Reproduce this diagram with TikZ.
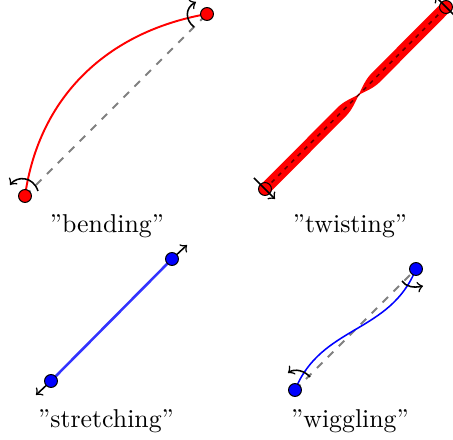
\documentclass[tikz,border=0pt]{standalone}
\usetikzlibrary{calc}
\begin{document}
\begin{tikzpicture}[x=0.3875pt,y=0.3875pt,
  joint/.style={circle,draw=black,line width=0.4pt,inner sep=0pt,minimum size=5pt},
  redjoint/.style={joint,fill=red},
  bluejoint/.style={joint,fill=blue},
  axisline/.style={gray,dashed,line width=0.7pt},
  motion/.style={->,black,line width=0.6pt},
  lbl/.style={inner sep=0pt}]
\useasboundingbox (0,0) rectangle (453,440);
\clip (0,0) rectangle (453,440);
% coordinates
\coordinate (A1) at (25,244);  \coordinate (B1) at (207,426);
\coordinate (A2) at (265,251); \coordinate (B2) at (446,433);
\coordinate (A3) at (51,59);   \coordinate (B3) at (172,181);
\coordinate (A4) at (295,50);  \coordinate (B4) at (416,171);
% ---------- bending
\draw[axisline] (A1) -- (B1);
\draw[red,line width=0.75pt] (A1) to[out=82,in=190] (B1);
\draw[motion] (38,249) .. controls (33,264) and (17,264) .. (10,255);
\draw[motion] (194,413) .. controls (185,420) and (185,432) .. (196,438);
\node[redjoint] (a1) at (A1) {};
\node[redjoint] (b1) at (B1) {};
\node[lbl] (L1) at (107,214) {''bending''};
% ---------- twisting
\begin{scope}[shift={(A2)},rotate=45.16]
\fill[red] (0,6) -- (109,6) .. controls (117,6) and (125,2.9) .. (133,0)
  .. controls (141,2.9) and (149,6) .. (157,6) -- (256.7,6) -- (256.7,-6)
  -- (157,-6) .. controls (149,-6) and (141,-2.9) .. (133,0)
  .. controls (125,-2.9) and (117,-6) .. (109,-6) -- (0,-6) -- cycle;
\end{scope}
\draw[red!40!black,line width=0.6pt,dash pattern=on 1.6pt off 2pt] (A2) -- (B2);
\node[redjoint] (a2) at (A2) {};
\node[redjoint] (b2) at (B2) {};
\draw[motion] (254,262) -- (275,241);
\draw[motion] (456,423) -- (435,444);
\node[lbl] (L2) at (350,214) {''twisting''};
% ---------- stretching
\draw[blue!80,line width=1pt] (A3) -- (B3);
\draw[motion] (B3) -- (187,195);
\draw[motion] (A3) -- (36,45);
\node[bluejoint] (a3) at (A3) {};
\node[bluejoint] (b3) at (B3) {};
\node[lbl] (L3) at (106,18.5) {''stretching''};
% ---------- wiggling
\draw[axisline] (A4) -- (B4);
\draw[blue,line width=0.6pt] (A4) .. controls +(68:70) and +(248:70) .. (B4);
\draw[motion] (310,63) .. controls (305,69) and (295,72) .. (288,67);
\draw[motion] (402,159) .. controls (406,153) and (414,152) .. (423,154);
\node[bluejoint] (a4) at (A4) {};
\node[bluejoint] (b4) at (B4) {};
\node[lbl] (L4) at (350,18.5) {''wiggling''};
\end{tikzpicture}
\end{document}
